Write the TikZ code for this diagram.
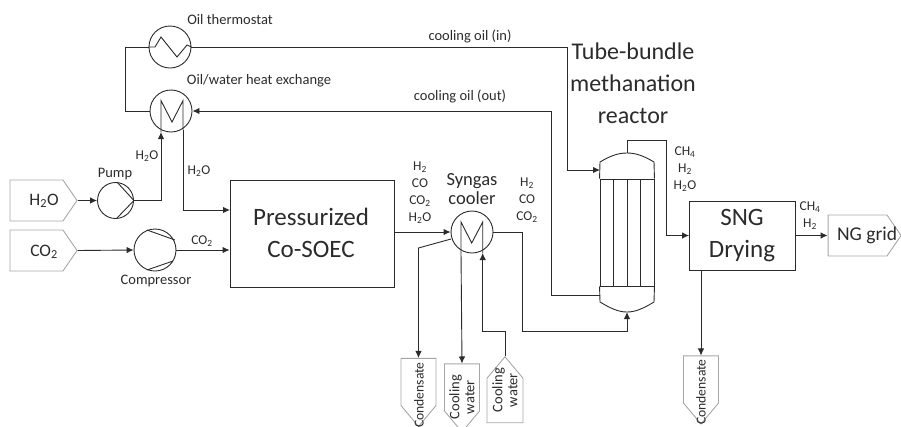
\documentclass[tikz,border=0pt]{standalone}
\usepackage{fontspec}
\setmainfont{Carlito}
\usetikzlibrary{arrows.meta,shapes.symbols}
\definecolor{linecol}{HTML}{2B2B2B}
\definecolor{portcol}{HTML}{A6A6A6}
\newcommand{\sub}[1]{\textsubscript{#1}}
\tikzset{
	lab/.style={font=\fontsize{14.5}{17}\selectfont, text=linecol, align=center, inner sep=0pt},
	chem/.style={font=\fontsize{13.5}{17}\selectfont, text=linecol, align=center, inner sep=0pt},
	big/.style={font=\fontsize{25}{32}\selectfont, text=linecol, align=center, inner sep=0pt},
	mid/.style={font=\fontsize{18.5}{19}\selectfont, text=linecol, align=center, inner sep=0pt},
	side/.style={font=\fontsize{14.5}{15}\selectfont, text=linecol, align=center, inner sep=0pt, rotate=90},
	unit/.style={circle, draw=linecol, line width=0.9pt, inner sep=0pt},
	block/.style={rectangle, draw=linecol, line width=0.9pt, inner sep=0pt},
	port/.style={signal, draw=portcol, line width=0.9pt, inner sep=0pt},
	wideport/.style={port, signal to=east, signal pointer angle=111, minimum height=41},
	downport/.style={port, signal to=west, signal pointer angle=80, rotate=90, minimum width=68, minimum height=35},
	flow/.style={draw=linecol, line width=0.9pt, -{Latex[length=7pt,width=6.5pt]}},
	pipe/.style={draw=linecol, line width=0.9pt}
}
\begin{document}
\begin{tikzpicture}[x=1pt, y=-1pt]
	\useasboundingbox (0,0) rectangle (901,426);
	% units
	\node[unit, minimum size=42] (thermo) at (170,47) {};
	\node[unit, minimum size=42] (oilhx) at (171,111) {};
	\node[unit, minimum size=36] (pump) at (115.5,200.5) {};
	\node[unit, minimum size=42] (comp) at (155,250) {};
	\node[unit, minimum size=42] (syncool) at (472,232) {};
	\node[block, minimum width=164, minimum height=107] (soec) at (312,233.5) {};
	\node[block, minimum width=106, minimum height=69] (dry) at (742.5,235.5) {};
	\node[big] (soectxt) at (311,233) {Pressurized\\Co-SOEC};
	\node[big] (drytxt) at (742,236) {SNG\\Drying};
	\node[big, font=\fontsize{24}{32}\selectfont] (reactortxt) at (633,83) {Tube-bundle\\methanation\\reactor};
	\node[mid] (cooltxt) at (472,189) {Syngas\\cooler};
	% feed and product ports
	\node[wideport, minimum width=67] (h2oin) at (36.5,200.5) {};
	\node[wideport, minimum width=67] (co2in) at (36.5,250.5) {};
	\node[wideport, minimum width=73] (grid) at (857.5,235.5) {};
	\node[downport] (condA) at (418.5,382) {};
	\node[downport] (waterA) at (462,387.5) {};
	\node[port, signal to=east, signal pointer angle=80, rotate=90, minimum width=66, minimum height=36] (waterB) at (505,400.5) {};
	\node[downport] (condB) at (701,379.5) {};
	\node[mid, font=\fontsize{17.5}{20}\selectfont] (h2otxt) at (44,201) {H\sub{2}O};
	\node[mid, font=\fontsize{17.5}{20}\selectfont] (co2txt) at (44,252) {CO\sub{2}};
	\node[mid, font=\fontsize{19.5}{20}\selectfont] (gridtxt) at (867,235) {NG grid};
	\node[side, font=\fontsize{13.6}{15}\selectfont] (condAtxt) at (419,395) {Condensate};
	\node[side] (waterAtxt) at (462,397) {Cooling\\water};
	\node[side] (waterBtxt) at (505,390) {Cooling\\water};
	\node[side, font=\fontsize{13.6}{15}\selectfont] (condBtxt) at (701,392) {Condensate};
	% stream labels
	\foreach \nm/\x/\y/\lab in {thermolab/230/20/{Oil thermostat}, oilhxlab/259/81/{Oil/water heat exchange}, inlab/470/36/{cooling oil (in)}, outlab/460/96/{cooling oil (out)}, pumplab/115/174/{Pump}, complab/156/281/{Compressor}} {
		\node[lab] (\nm) at (\x,\y) {\lab};
	}
	\foreach \nm/\x/\y/\lab in {waterup/147/156/{H\sub{2}O}, waterdown/199/171/{H\sub{2}O}, co2lab/202/241/{CO\sub{2}}, rawgas/420/193/{H\sub{2}\\CO\\CO\sub{2}\\H\sub{2}O}, drygas/527/200/{H\sub{2}\\CO\\CO\sub{2}}, wetsng/685/169/{CH\sub{4}\\H\sub{2}\\H\sub{2}O}, sng/810/216/{CH\sub{4}\\H\sub{2}}} {
		\node[chem] (\nm) at (\x,\y) {\lab};
	}
	% reactor
	\node[block, minimum width=54, minimum height=107] (reactor) at (627,232.5) {};
	\coordinate (reactortop) at (627,153);
	\coordinate (reactorbot) at (627,312);
	\coordinate (oilin) at (600,170);
	\coordinate (oilout) at (600,295);
	\draw[pipe] (reactor.north west) -- (600,162) .. controls (610,156) and (618,153) .. (reactortop) .. controls (636,153) and (644,156) .. (654,162) -- (reactor.north east);
	\draw[pipe] (reactor.south west) -- (600,302) .. controls (610,308) and (618,312) .. (reactorbot) .. controls (636,312) and (644,308) .. (654,302) -- (reactor.south east);
	\foreach \x in {613.7,627,640.7} {
		\draw[pipe] (\x,179) -- (\x,286);
	}
	% coil shapes
	\draw[pipe] (thermo.west) -- (155,47) -- (161,37) -- (177,57) -- (187,45) -- (thermo.east);
	\coordinate (oilhxin) at (161,132);
	\coordinate (oilhxout) at (183,130);
	\coordinate (coolin) at (482.7,253);
	\coordinate (coolout) at (461,252);
	\coordinate (condout) at (451,239);
	\draw[pipe] (oilhxin) -- (161,100.6) -- (172,122) -- (183,100.6) -- (oilhxout);
	\draw[pipe] (coolout) -- (461,222) -- (471.7,243) -- (482.7,222) -- (coolin);
	\draw[pipe] (pump.north) ++(1.5,0) -- (pump.east) -- (117,218);
	\draw[pipe] (147,230) -- (175,240);
	\draw[pipe] (147,270) -- (173,261);
	% oil loop
	\draw[pipe] (thermo.west) -- (125,47) -- (125,111) -- (oilhx.west);
	\draw[flow] (thermo.east) -- (567.5,47) -- (567.5,170) -- (oilin);
	\draw[flow] (oilout) -- (551,295) -- (551,111) -- (oilhx.east);
	% feed lines
	\draw[flow] (h2oin.east) -- (pump.west);
	\draw[flow] (pump.east) -| (oilhxin);
	\draw[flow] (oilhxout) |- (230,210);
	\draw[flow] (co2in.east) -- (comp.west);
	\draw[flow] (comp.east) -- (soec.west |- comp.east);
	\draw[flow] (soec.east |- syncool.west) -- (syncool.west);
	% cooler lines
	\draw[flow] (condout) -- (418.5,248) -- (condA.east);
	\draw[flow] (coolout) -- (waterA.east);
	\draw[flow] (waterB.east) -- (505,331) -| (coolin);
	\draw[flow] (syncool.east) -- (522,232) -- (522,331) -| (reactorbot);
	% product lines
	\draw[flow] (reactortop) -- (627,140.7) -- (666,140.7) |- (dry.west);
	\draw[flow] (dry.east) -- (grid.west);
	\draw[flow] (701,270) -- (condB.east);
\end{tikzpicture}
\end{document}
